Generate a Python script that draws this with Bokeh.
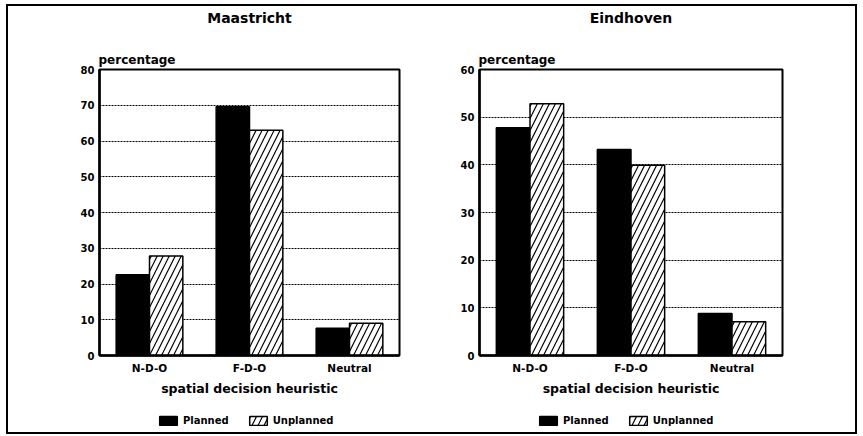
from bokeh.plotting import figure
from bokeh.models import FactorRange, Range1d, FixedTicker, Legend, LegendItem, Title, ColumnDataSource
from bokeh.transform import dodge
from bokeh.layouts import row, column
from bokeh.embed import file_html
from bokeh.resources import INLINE

categories = ["N-D-O", "F-D-O", "Neutral"]
series = ["Planned", "Unplanned"]
maastricht_planned = [22.6, 69.6, 7.6]
maastricht_unplanned = [27.8, 63.0, 9.0]
eindhoven_planned = [47.8, 43.2, 8.8]
eindhoven_unplanned = [52.8, 39.9, 7.1]
maastricht_ticks = [0, 10, 20, 30, 40, 50, 60, 70, 80]
eindhoven_ticks = [0, 10, 20, 30, 40, 50, 60]
x_title = "spatial decision heuristic"
y_title = "percentage"

FONT = "DejaVu Sans"
PLANNED_STYLE = dict(fill_color="black", line_color="black", line_width=1.5)
UNPLANNED_STYLE = dict(fill_color="white", line_color="black", line_width=1.5,
                       hatch_pattern="/", hatch_color="black", hatch_weight=1.2, hatch_scale=12)


def spacer(standoff):
    return Title(text=" ", text_font_size="1px", standoff=standoff)


def make_panel(city, src, ticks, bl, fw, br):
    ymax = ticks[-1]
    p = figure(x_range=FactorRange(*categories, range_padding=0),
               y_range=Range1d(ticks[0], ymax),
               frame_width=fw, frame_height=286,
               min_border_left=bl, min_border_right=br,
               min_border_top=63, min_border_bottom=52,
               output_backend="svg", toolbar_location=None, title=None)
    p.vbar(x=dodge("cat", -1/6, range=p.x_range), top="planned", width=1/3,
           source=src, **PLANNED_STYLE)
    p.vbar(x=dodge("cat", 1/6, range=p.x_range), top="unplanned", width=1/3,
           source=src, **UNPLANNED_STYLE)

    # above: y caption (nearest the frame), a spacer, then the city name
    p.add_layout(Title(text=y_title, align="left", offset=-1, vertical_align="bottom",
                       standoff=5, text_font=FONT, text_font_size="12px",
                       text_font_style="bold", text_color="black"), "above")
    p.add_layout(spacer(20), "above")
    p.add_layout(Title(text=city, align="center", vertical_align="bottom", standoff=0,
                       text_font=FONT, text_font_size="14px",
                       text_font_style="bold", text_color="black"), "above")

    p.outline_line_color = "black"
    p.outline_line_width = 2
    p.background_fill_color = "white"
    p.border_fill_color = "white"

    p.yaxis.ticker = FixedTicker(ticks=ticks)
    p.ygrid.ticker = FixedTicker(ticks=ticks)
    p.ygrid.grid_line_color = "black"
    p.ygrid.grid_line_dash = "2 1"
    p.ygrid.grid_line_width = 1.2
    p.xgrid.grid_line_color = None

    for ax in (p.xaxis, p.yaxis):
        ax.axis_line_width = 2.5
        ax.axis_line_color = "black"
        ax.major_tick_line_color = None
        ax.minor_tick_line_color = None
        ax.major_tick_out = 0
        ax.major_tick_in = 0
        ax.minor_tick_out = 0
        ax.minor_tick_in = 0
        ax.major_label_text_font = FONT
        ax.major_label_text_font_style = "bold"
        ax.major_label_text_color = "black"
    p.yaxis.major_label_text_font_size = "10px"
    p.yaxis.major_label_standoff = 5
    p.xaxis.major_label_text_font_size = "10.5px"
    p.xaxis.major_label_standoff = 6
    p.xaxis.axis_label = x_title
    p.xaxis.axis_label_text_font = FONT
    p.xaxis.axis_label_text_font_style = "bold"
    p.xaxis.axis_label_text_font_size = "12.5px"
    p.xaxis.axis_label_standoff = 4
    p.xaxis.axis_label_text_color = "black"
    return p


def make_legend_strip(src, width, x0):
    lp = figure(x_range=Range1d(0, 1), y_range=Range1d(0, 1),
                frame_width=width, frame_height=25,
                min_border_left=0, min_border_right=0, min_border_top=0, min_border_bottom=0,
                x_axis_location=None, y_axis_location=None,
                output_backend="svg", toolbar_location=None, title=None)
    lp.outline_line_color = None
    lp.xgrid.grid_line_color = None
    lp.ygrid.grid_line_color = None
    lp.background_fill_color = "white"
    lp.border_fill_color = "white"
    # hidden renderers (same data and styles) that only supply the legend swatches
    r1 = lp.vbar(x="planned", top="planned", width=0.1, source=src, visible=False, **PLANNED_STYLE)
    r2 = lp.vbar(x="unplanned", top="unplanned", width=0.1, source=src, visible=False, **UNPLANNED_STYLE)
    legend = Legend(items=[LegendItem(label=series[0], renderers=[r1]),
                           LegendItem(label=series[1], renderers=[r2])],
                    orientation="horizontal", location=(x0, 6.5),
                    glyph_width=22, glyph_height=11, label_standoff=4, spacing=18,
                    padding=0, margin=0, border_line_color=None, background_fill_alpha=0,
                    inactive_fill_alpha=0,
                    label_text_font=FONT, label_text_font_style="bold",
                    label_text_font_size="10px", label_height=11, label_text_color="black")
    lp.add_layout(legend)
    return lp


src_m = ColumnDataSource(dict(cat=categories, planned=maastricht_planned, unplanned=maastricht_unplanned))
src_e = ColumnDataSource(dict(cat=categories, planned=eindhoven_planned, unplanned=eindhoven_unplanned))

p1 = make_panel("Maastricht", src_m, maastricht_ticks, 91, 300, 33)
p2 = make_panel("Eindhoven", src_e, eindhoven_ticks, 47, 303, 73)
l1 = make_legend_strip(src_m, 424, 149)
l2 = make_legend_strip(src_e, 423, 105)

layout = column(row(p1, p2), row(l1, l2),
                styles={"border": "2px solid black", "margin": "4px 0 0 6px"})

open("out.html", "w").write(file_html(layout, INLINE))
